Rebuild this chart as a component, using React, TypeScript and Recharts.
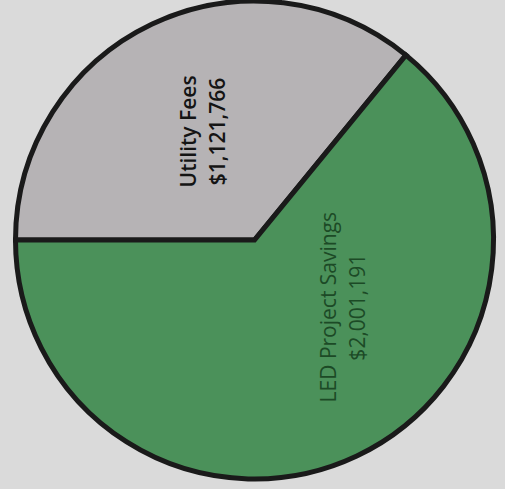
import { PieChart, Pie, Cell } from "recharts";

const names = ["Utility Fees", "LED Project Savings"];
const amounts = [1121766, 2001191];
const fills = ["#b6b3b5", "#4b915a"];
const labelColors = ["#141414", "#1c4a26"];
const labelWeights = [600, 400];
// where each label sits: angle (deg, ccw from 3 o'clock) and fraction of radius
const labelAngles = [112, -35];
const labelRadius = [0.49, 0.49];

const data = names.map((name, i) => ({ name, value: amounts[i] }));

const RAD = Math.PI / 180;

const renderLabel = (props: any) => {
  const { cx, cy, outerRadius, index } = props;
  const a = labelAngles[index] * RAD;
  const r = outerRadius * labelRadius[index];
  const x = cx + r * Math.cos(a);
  const y = cy - r * Math.sin(a);
  return (
    <g transform={`translate(${x},${y}) rotate(-90)`}>
      <text
        textAnchor="middle"
        fontFamily="'Open Sans', sans-serif"
        fontSize={21}
        fontWeight={labelWeights[index]}
        fill={labelColors[index]}
      >
        <tspan x={0} y={-14.5}>{names[index]}</tspan>
        <tspan x={0} y={14.5}>${amounts[index].toLocaleString("en-US")}</tspan>
      </text>
    </g>
  );
};

export default function App() {
  return (
    <div
      style={{
        position: "absolute",
        left: 0,
        top: 0,
        width: 505,
        height: 489,
        background: "#dadada",
      }}
    >
      <PieChart width={505} height={489} margin={{ top: 0, right: 0, bottom: 0, left: 0 }}>
        <Pie
          data={data}
          dataKey="value"
          cx={254.5}
          cy={240}
          outerRadius={239}
          startAngle={180}
          endAngle={-180}
          stroke="#1a1a1a"
          strokeWidth={5}
          label={renderLabel}
          labelLine={false}
          isAnimationActive={false}
        >
          {data.map((d, i) => (
            <Cell key={d.name} fill={fills[i]} />
          ))}
        </Pie>
      </PieChart>
    </div>
  );
}
